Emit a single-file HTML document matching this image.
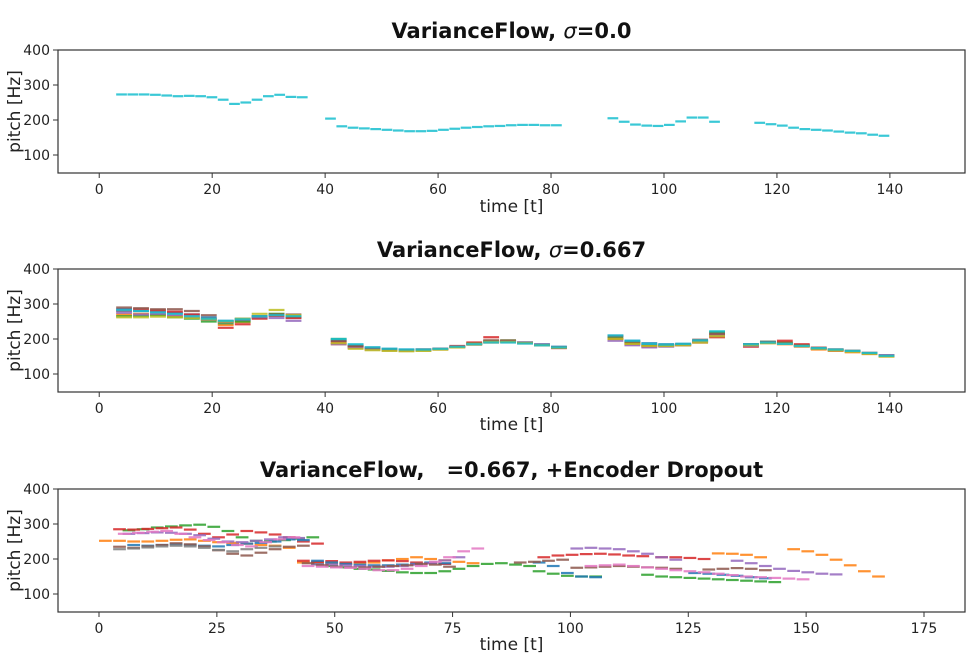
<!DOCTYPE html>
<html><head><meta charset="utf-8"><style>
html,body{margin:0;padding:0;background:#fff}
svg{display:block;font-family:"DejaVu Sans","Liberation Sans",sans-serif}
</style></head><body>
<svg id="c" width="973" height="667" viewBox="0 0 973 667"></svg>
<script>
const colors=["#1f77b4","#ff7f0e","#2ca02c","#d62728","#9467bd","#8c564b","#e377c2","#7f7f7f","#bcbd22","#17becf"];
// Plot 1 (sigma=0.0) – segments: [t0, step, values]
const p1Series=[
 {c:9,segs:[[3,2,[273,273,273,272,270,268,269,268,265,258,246,250,258,268,272,266,265]],[40,2,[204,182,178,176,174,172,170,168,168,169,172,175,178,180,182,183,185,186,186,185,185]],[90,2,[205,195,187,184,183,186,196,207,207,195]],[116,2,[192,188,184,178,174,172,170,167,164,162,158,155]]]}
];
// Plot 2 (sigma=0.667)
const p2A=[[285,280,278,275,270,262,252,258,265,268,262],[270,272,270,266,262,255,240,248,262,270,265],[265,266,268,262,258,250,245,250,260,272,262],[280,285,282,278,270,258,232,242,258,266,260],[275,270,272,268,262,255,248,255,262,260,252],[290,288,285,285,280,268,250,255,265,270,270],[262,262,264,262,260,256,250,258,272,283,268],[282,280,276,272,265,258,252,256,265,268,265]];
const p2B=[[195,182,176,172,170,170,172,178,186,192,193,190,185,178],[185,175,170,168,166,167,170,176,184,190,191,188,183,175],[200,180,172,170,168,168,171,177,185,195,196,190,182,176],[190,178,173,170,168,170,172,180,190,205,195,188,182,174],[185,175,170,168,167,168,172,178,186,194,194,190,184,176],[195,180,174,170,168,169,172,178,188,196,195,189,183,176],[188,172,168,166,165,166,170,176,186,192,192,188,182,175],[200,185,176,172,170,170,172,178,185,190,190,187,182,176]];
const p2C=[[210,195,188,185,186,195,215],[200,188,180,180,182,192,212],[205,190,182,182,184,195,220],[200,185,178,180,182,190,205],[195,182,176,178,182,192,210],[208,192,184,183,185,198,215],[200,186,180,180,182,190,208],[210,195,186,184,186,196,222]];
const p2D=[[185,192,188,180,172,168,165,160,152],[180,188,185,178,170,166,162,157,150],[182,192,190,182,172,168,165,160,153],[178,190,195,185,175,170,166,160,152],[180,190,186,180,172,168,165,160,154],[185,192,188,182,175,170,166,160,152],[182,188,186,180,172,168,164,158,150],[185,190,186,180,174,170,166,160,152]];
const p2Colors=[0,1,2,3,4,5,8,9];
// Plot 3 (+Encoder Dropout)
const p3Series=[
 {c:1,segs:[[0,3,[252,252,250,250,252,255,256,252,248,246,244,240,238,232]],[42,3,[190,190,188,186,188,190,196,200,205,200,196,192,188]],[130,3,[216,215,212,205]],[146,3,[228,222,212,198,182,165,150]]]},
 {c:2,segs:[[5,3,[282,285,290,293,296,298,292,280,262,252,250,254,258,262]],[45,3,[185,180,176,172,170,166,162,160,160,165,172,180,186,188,184,180]],[92,3,[165,158,152,150,150]],[115,3,[155,150,148,146,144,142,140,138,136,134]]]},
 {c:3,segs:[[3,3,[285,284,286,288,290,284,272,262,270,280,276,270,262,250,244]],[42,3,[195,192,194,190,192,195,196,194,190,188,186]],[93,3,[205,210,212,214,215,213,210,208]],[118,3,[205,205,203,200]]]},
 {c:0,segs:[[6,3,[240,238,240,242,240,238,236,240,244,246,250,256,254]],[45,3,[195,190,186,184,182,182,184,186,190,188]],[92,3,[190,180,160,150,148]],[125,3,[160,158,155,152,148,145]]]},
 {c:4,segs:[[5,3,[272,274,276,275,272,268,258,250,248,252,256,262,260]],[45,3,[185,184,182,180,178,178,180,184,188,196,205]],[100,3,[230,232,230,228,222,215,205,198]],[134,3,[195,188,180,172,166,162,158,156]]]},
 {c:5,segs:[[3,3,[235,232,236,240,245,242,236,225,215,210,218,228,235,238]],[43,3,[188,182,178,176,176,178,180,182,186,184,178]],[88,3,[190,192,195,198]],[100,3,[175,176,178,180,178,176,175,172]],[128,3,[170,172,174,172,168]]]},
 {c:6,segs:[[4,3,[272,275,278,280,272,262,254,248,240,236,248,256,262]],[43,3,[180,178,176,175,172,168,168,172,180,192,205,222,230]],[103,3,[180,182,184,180,176,172,168,165,162,158,154,150,148,146,144,142]]]},
 {c:7,segs:[[3,3,[228,230,233,236,238,236,232,226,222,228,232,236]]]}
];
const xt12=[0,20,40,60,80,100,120,140];
const xt3=[0,25,50,75,100,125,150,175];
const yt=[100,200,300,400];

const svg=document.getElementById('c');const NS="http://www.w3.org/2000/svg";
function mk(t,a,p){const e=document.createElementNS(NS,t);for(const k in a)e.setAttribute(k,a[k]);(p||svg).appendChild(e);return e;}
const L=58,R=965;
function panel(top,bot,xmin,xmax,xt,titleHTML,xlY,name){
 const g=mk('g',{});
 
 
 const x=v=>L+(v-xmin)/(xmax-xmin)*(R-L);
 const y=v=>bot-(v-48.6)/(400-48.6)*(bot-top);
 const ax={x,y,g};
 const fr=mk('rect',{x:L,y:top,width:R-L,height:bot-top,fill:'none',stroke:'#333','stroke-width':1.2},g);
 
 
 xt.forEach(v=>{mk('line',{x1:x(v),x2:x(v),y1:bot,y2:bot+5,stroke:'#333'},g);
  const t=mk('text',{x:x(v),y:bot+21,'text-anchor':'middle','font-size':14,fill:'#222'},g);t.textContent=v;
  
  });
 yt.forEach(v=>{mk('line',{x1:L-5,x2:L,y1:y(v),y2:y(v),stroke:'#333'},g);
  const t=mk('text',{x:L-8,y:y(v)+5,'text-anchor':'end','font-size':14,fill:'#222'},g);t.textContent=v;
  
  });
 const tt=mk('text',{x:(L+R)/2,y:top-12,'text-anchor':'middle','font-size':21,'font-weight':'bold',fill:'#111'},g);tt.innerHTML=titleHTML;
 
 
 const xl=mk('text',{x:(L+R)/2,y:xlY,'text-anchor':'middle','font-size':17,fill:'#222'},g);xl.textContent='time [t]';
 
 
 const yc=(top+bot)/2;
 const yl=mk('text',{x:20,y:yc,'text-anchor':'middle','font-size':17,fill:'#222',transform:`rotate(-90 20 ${yc})`},g);yl.textContent='pitch [Hz]';
 
 
 return ax;
}
function drawSeg(ax,t0,step,vals,col,len){
 vals.forEach((v,i)=>{const t=t0+i*step;
  const l=mk('line',{x1:ax.x(t),x2:ax.x(t+len),y1:ax.y(v),y2:ax.y(v),stroke:col,'stroke-width':2.2,'stroke-opacity':0.85},ax.g);
  
  });
}
const a1=panel(50,173,-7.3,153.3,xt12,'VarianceFlow, <tspan font-style="italic" font-weight="normal">σ</tspan>=0.0',212,'panel-sigma-0');
p1Series.forEach(s=>s.segs.forEach(sg=>drawSeg(a1,sg[0],sg[1],sg[2],colors[s.c],1.9)));
const a2=panel(269,392,-7.3,153.3,xt12,'VarianceFlow, <tspan font-style="italic" font-weight="normal">σ</tspan>=0.667',430,'panel-sigma-0667');
p2Colors.forEach((c,i)=>{drawSeg(a2,3,3,p2A[i],colors[c],2.8);drawSeg(a2,41,3,p2B[i],colors[c],2.8);drawSeg(a2,90,3,p2C[i],colors[c],2.8);drawSeg(a2,114,3,p2D[i],colors[c],2.8);});
const a3=panel(489,612,-8.7,183.7,xt3,'VarianceFlow,&#160;&#160;&#160;=0.667, +Encoder Dropout',650,'panel-encoder-dropout');
p3Series.forEach(s=>s.segs.forEach(sg=>drawSeg(a3,sg[0],sg[1],sg[2],colors[s.c],2.7)));
</script>
</body></html>
